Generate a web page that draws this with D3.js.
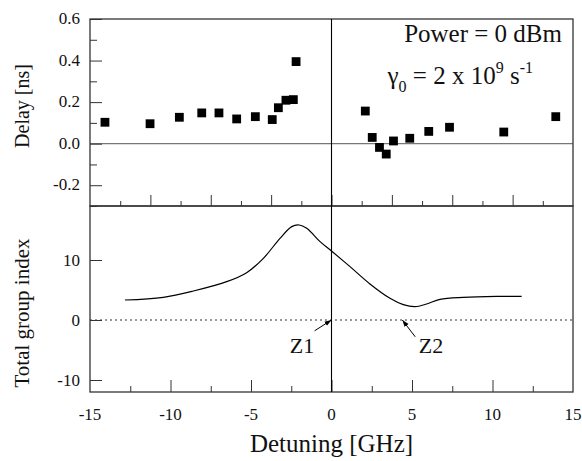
<!DOCTYPE html>
<html>
<head>
<meta charset="utf-8">
<script src="https://cdn.jsdelivr.net/npm/d3@7"></script>
<style>
  body { margin: 0; background: #fff; }
</style>
</head>
<body>
<svg id="chart" width="582" height="461"></svg>
<script>
// measured delay points (top panel)
const delayDetuning = [-14.07, -11.27, -9.45, -8.06, -6.99, -5.89, -4.73, -3.68, -3.30, -2.83, -2.37, -2.20,
  2.10, 2.53, 2.98, 3.40, 3.85, 4.86, 6.04, 7.33, 10.70, 13.93];
const delayNs = [0.103, 0.096, 0.127, 0.148, 0.148, 0.119, 0.130, 0.116, 0.173, 0.209, 0.212, 0.395,
  0.157, 0.030, -0.018, -0.050, 0.013, 0.026, 0.059, 0.079, 0.056, 0.130];

// total group index curve (bottom panel)
const indexDetuning = [-12.83, -10.45, -8.58, -6.51, -5.27, -4.23, -3.20, -2.47, -2.01, -1.54, -0.71, 0.0,
  1.15, 2.39, 3.63, 4.46, 5.19, 5.91, 6.74, 8.19, 10.26, 11.81];
const groupIndex = [3.33, 3.78, 4.83, 6.39, 7.89, 10.28, 13.6, 15.56, 15.83, 15.28, 13.06, 11.5,
  8.89, 6.0, 3.61, 2.56, 2.22, 2.67, 3.44, 3.78, 3.94, 3.94];

const xTicks = [-15, -10, -5, 0, 5, 10, 15];
const delayTicks = [0.6, 0.4, 0.2, 0.0, -0.2];
const indexTicks = [10, 0, -10];

const FONT = "'Times New Roman', Times, 'Liberation Serif', Tinos, 'Noto Serif', 'DejaVu Serif', 'Nimbus Roman', serif";

const svg = d3.select("#chart");
const left = 90, right = 573;
const top1 = 19, bot1 = 206, bot2 = 392;

const x = d3.scaleLinear().domain([-15, 15]).range([left, right]);
const yDelay = d3.scaleLinear().domain([-0.3, 0.6]).range([bot1, top1]);
const yIndex = d3.scaleLinear().domain([-12, 19]).range([bot2, bot1]);
// the upper panel's own bottom ticks use a different spacing
const xTop = d3.scaleLinear().domain([-4, 4]).range([left, right]);

const frame = "#333";

function label(sel, size) {
  return sel.style("font-family", FONT).style("font-size", size + "px").attr("fill", "#111");
}

// ---- top panel ----
const g1 = svg.append("g");

g1.append("line")
  .attr("x1", left).attr("x2", right)
  .attr("y1", yDelay(0)).attr("y2", yDelay(0))
  .attr("stroke", "#777").attr("stroke-width", 1.2);

g1.append("g")
  .attr("transform", `translate(${left},0)`)
  .call(d3.axisRight(yDelay).tickValues(d3.range(-3, 7).map(d => d / 10)).tickFormat("").tickSize(7).tickSizeOuter(0))
  .call(a => a.selectAll(".tick line").filter(d => delayTicks.some(t => Math.abs(t - d) < 1e-9)).attr("x2", 12))
  .call(a => a.select(".domain").remove())
  .call(a => a.selectAll("line").attr("stroke", frame));

g1.selectAll(".dlabel")
  .data(delayTicks)
  .enter().append("text")
  .attr("x", 80).attr("y", d => yDelay(d) + 5)
  .attr("text-anchor", "end")
  .call(label, 17)
  .text(d => d3.format(".1f")(d).replace("−", "-"));

g1.append("g")
  .attr("transform", `translate(0,${bot1})`)
  .call(d3.axisTop(xTop).tickValues(d3.range(-3.5, 4, 0.5)).tickFormat("").tickSize(5).tickSizeOuter(0))
  .call(a => a.selectAll(".tick line").filter(d => Number.isInteger(d)).attr("y2", -11))
  .call(a => a.select(".domain").remove())
  .call(a => a.selectAll("line").attr("stroke", frame));

g1.selectAll(".pt")
  .data(delayDetuning)
  .enter().append("rect")
  .attr("x", (d, i) => x(d) - 4.4)
  .attr("y", (d, i) => yDelay(delayNs[i]) - 4.4)
  .attr("width", 8.8).attr("height", 8.8)
  .attr("fill", "#000");

g1.append("text")
  .attr("x", 562).attr("y", 42)
  .attr("text-anchor", "end")
  .call(label, 25)
  .text("Power = 0 dBm");

const gam = g1.append("text")
  .attr("x", 533).attr("y", 84)
  .attr("text-anchor", "end")
  .call(label, 25);
gam.append("tspan").text("γ");
gam.append("tspan").attr("dy", 8).style("font-size", "16px").text("0");
gam.append("tspan").attr("dy", -8).text(" = 2 x 10");
gam.append("tspan").attr("dy", -11).style("font-size", "16px").text("9");
gam.append("tspan").attr("dy", 11).text(" s");
gam.append("tspan").attr("dy", -11).style("font-size", "16px").text("-1");

g1.append("rect")
  .attr("x", left).attr("y", top1)
  .attr("width", right - left).attr("height", bot1 - top1)
  .attr("fill", "none").attr("stroke", frame).attr("stroke-width", 1.3);

// ---- bottom panel ----
const g2 = svg.append("g");

g2.append("line")
  .attr("x1", left).attr("x2", right)
  .attr("y1", yIndex(0)).attr("y2", yIndex(0))
  .attr("stroke", "#333").attr("stroke-dasharray", "2,3");

g2.append("g")
  .attr("transform", `translate(${left},0)`)
  .call(d3.axisRight(yIndex).tickValues(indexTicks).tickFormat("").tickSize(12).tickSizeOuter(0))
  .call(a => a.select(".domain").remove())
  .call(a => a.selectAll("line").attr("stroke", frame));

g2.selectAll(".ilabel")
  .data(indexTicks)
  .enter().append("text")
  .attr("x", 80).attr("y", d => yIndex(d) + 6)
  .attr("text-anchor", "end")
  .call(label, 17)
  .text(d => String(d));

g2.append("g")
  .attr("transform", `translate(0,${bot2})`)
  .call(d3.axisTop(x).tickValues(d3.range(-12.5, 15, 2.5)).tickFormat("").tickSize(6).tickSizeOuter(0))
  .call(a => a.selectAll(".tick line").filter(d => d % 5 === 0).attr("y2", -12))
  .call(a => a.select(".domain").remove())
  .call(a => a.selectAll("line").attr("stroke", frame));

g2.selectAll(".xlabel")
  .data(xTicks)
  .enter().append("text")
  .attr("x", d => x(d)).attr("y", 420)
  .attr("text-anchor", "middle")
  .call(label, 17)
  .text(d => String(d));

const line = d3.line()
  .x((d, i) => x(d))
  .y((d, i) => yIndex(groupIndex[i]))
  .curve(d3.curveCatmullRom.alpha(0.5));

g2.append("path")
  .attr("d", line(indexDetuning))
  .attr("fill", "none").attr("stroke", "#000").attr("stroke-width", 1.2);

// Z1 / Z2 markers
svg.append("defs").append("marker")
  .attr("id", "arr")
  .attr("viewBox", "0 0 10 10").attr("refX", 10).attr("refY", 5)
  .attr("markerWidth", 7).attr("markerHeight", 7)
  .attr("orient", "auto")
  .append("path").attr("d", "M0,1.5L10,5L0,8.5z").attr("fill", "#000");

const zLabels = ["Z1", "Z2"];
const zTip = [0, 4.4];
const zTail = [[-1.05, -1.8], [5.2, -2.8]];
const zText = [-1.83, 6.18];

g2.selectAll(".zarrow")
  .data(zLabels)
  .enter().append("line")
  .attr("x1", (d, i) => x(zTail[i][0])).attr("y1", (d, i) => yIndex(zTail[i][1]))
  .attr("x2", (d, i) => x(zTip[i])).attr("y2", yIndex(0))
  .attr("stroke", "#000").attr("stroke-width", 1)
  .attr("marker-end", "url(#arr)");

g2.selectAll(".ztext")
  .data(zLabels)
  .enter().append("text")
  .attr("x", (d, i) => x(zText[i])).attr("y", yIndex(-5.5))
  .attr("text-anchor", "middle")
  .call(label, 22)
  .text(d => d);

g2.append("rect")
  .attr("x", left).attr("y", bot1)
  .attr("width", right - left).attr("height", bot2 - bot1)
  .attr("fill", "none").attr("stroke", frame).attr("stroke-width", 1.3);

// zero detuning line through both panels
svg.append("line")
  .attr("x1", x(0)).attr("x2", x(0))
  .attr("y1", top1).attr("y2", bot2)
  .attr("stroke", "#000").attr("stroke-width", 1.1);

// axis titles
svg.append("text")
  .attr("transform", "translate(29,106) rotate(-90)")
  .attr("text-anchor", "middle")
  .call(label, 20)
  .text("Delay [ns]");

svg.append("text")
  .attr("transform", "translate(29,313) rotate(-90)")
  .attr("text-anchor", "middle")
  .call(label, 21)
  .text("Total group index");

svg.append("text")
  .attr("x", x(0)).attr("y", 452)
  .attr("text-anchor", "middle")
  .call(label, 25)
  .text("Detuning [GHz]");
</script>
</body>
</html>
